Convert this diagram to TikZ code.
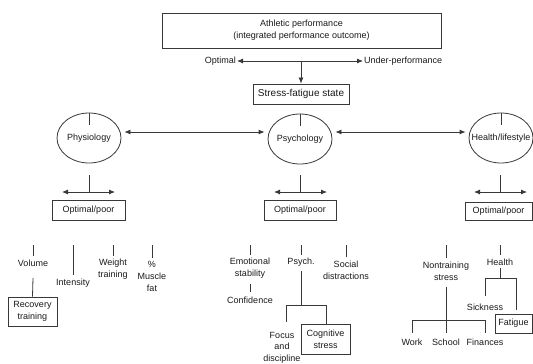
\documentclass[tikz,border=0pt]{standalone}
\usepackage{fontspec}
\setmainfont{Liberation Sans}
\usetikzlibrary{arrows.meta,shapes.geometric}
\begin{document}
\begin{tikzpicture}[x=1pt,y=-1pt,
  every node/.style={text=black!90, font=\fontsize{9}{12}\selectfont, inner sep=1pt},
  ln/.style={draw=black!78, line width=0.8pt},
  bx/.style={draw=black!78, line width=0.9pt, rectangle, align=center, inner sep=0pt},
  lbl/.style={align=center},
  oval/.style={ellipse, draw=black!78, line width=0.8pt, minimum width=64pt, minimum height=50pt, inner sep=0pt},
  arr/.style={ln, -{Latex[length=6pt,width=5pt]}},
  darr/.style={ln, {Latex[length=6pt,width=5pt]}-{Latex[length=6pt,width=5pt]}},
]
\useasboundingbox (0,0) rectangle (533,364);

% top
\node[bx, minimum width=279pt, minimum height=35pt] (perf) at (301.5,30.5) {Athletic performance\\(integrated performance outcome)};
\node[anchor=east] (opt) at (237,61) {Optimal};
\node[anchor=west] (under) at (363,61) {Under-performance};
\draw[darr] (opt.east) -- (under.west);
\coordinate (mid) at (301,61);
\node[bx, minimum width=96pt, minimum height=20pt, font=\fontsize{10}{12}\selectfont] (stress) at (301,94) {Stress-fatigue state};
\draw[arr] (mid) -- (stress.north);

% circles
\node[oval] (phys) at (89,138) {\makebox[0pt]{Physiology}};
\node[oval] (psych) at (300,139) {\makebox[0pt]{Psychology}};
\node[oval] (hl) at (501,138) {\makebox[0pt]{Health/lifestyle}};
\draw[ln] (phys.north) -- ++(0,12);
\draw[ln] (psych.north) -- ++(0,12);
\draw[ln] (hl.north) -- ++(0,12);
\draw[darr, shorten <=3pt, shorten >=3pt] ([yshift=6pt]phys.east) -- ([yshift=7pt]psych.west);
\draw[darr, shorten <=3pt, shorten >=3pt] ([yshift=7pt]psych.east) -- ([yshift=6pt]hl.west);

% optimal/poor rows
\coordinate (pa1) at (89,175); \coordinate (pa2) at (89,192);
\coordinate (pl) at (62,192); \coordinate (pr) at (115,192);
\draw[ln] (pa1) -- (pa2);
\draw[darr] (pl) -- (pr);
\node[bx, minimum width=73pt, minimum height=20pt] (pop) at (88.5,210) {Optimal/poor};

\coordinate (qa1) at (300,175); \coordinate (qa2) at (300,192);
\coordinate (ql) at (274,192); \coordinate (qr) at (327,192);
\draw[ln] (qa1) -- (qa2);
\draw[darr] (ql) -- (qr);
\node[bx, minimum width=72pt, minimum height=20pt] (qop) at (300,210) {Optimal/poor};

\coordinate (ha1) at (500,175); \coordinate (ha2) at (500,192);
\coordinate (hl1) at (474,192); \coordinate (hr1) at (527,192);
\draw[ln] (ha1) -- (ha2);
\draw[darr] (hl1) -- (hr1);
\node[bx, minimum width=67pt, minimum height=18pt] (hop) at (498.5,211.5) {Optimal/poor};

% physiology branch
\node[lbl] (vol) at (33,263) {Volume};
\node[lbl] (int) at (73,283) {Intensity};
\node[lbl] (wt) at (113,269.5) {Weight\\training};
\node[lbl] (mus) at (152,276.5) {\%\\Muscle\\fat};
\node[bx, minimum width=49pt, minimum height=29pt] (rec) at (32.5,311.5) {Recovery\\training};
\coordinate (t1) at (33,245); \coordinate (t2) at (73,245);
\coordinate (t3) at (113,245); \coordinate (t4) at (152,245);
\draw[ln, shorten >=2pt] (t1) -- (vol.north);
\draw[ln, shorten >=3pt] (t2) -- (int.north);
\draw[ln, shorten >=2pt] (t3) -- (wt.north);
\draw[ln, shorten >=2pt] (t4) -- (mus.north);
\coordinate (v1) at (33,278);
\draw[ln] (v1) -- (rec.north);

% psychology branch
\node[lbl] (emo) at (250,268) {Emotional\\stability};
\node[lbl] (conf) at (250,300) {Confidence};
\node[lbl] (psy) at (301,262) {Psych.};
\node[lbl] (soc) at (346,270) {Social\\distractions};
\node[lbl, font=\fontsize{9}{11.5}\selectfont] (foc) at (282,347.5) {Focus\\and\\discipline};
\node[bx, minimum width=49pt, minimum height=30pt] (cog) at (325.5,339) {Cognitive\\stress};
\coordinate (t5) at (250,245); \coordinate (t6) at (301,245); \coordinate (t7) at (346,245);
\draw[ln, shorten >=2pt] (t5) -- (emo.north);
\draw[ln, shorten >=2pt] (t6) -- (psy.north);
\draw[ln, shorten >=2pt] (t7) -- (soc.north);
\draw[ln, shorten <=5pt, shorten >=3pt] (emo.south) -- (conf.north);
\coordinate (pb) at (301,305); \coordinate (pbl) at (286,305); \coordinate (pbr) at (326,305);
\draw[ln, shorten <=4pt] (psy.south) -- (pb);
\draw[ln] (pbl) -- (pbr);
\draw[ln] (pbl) -- ++(0,17);
\draw[ln] (pbr) -- (pbr |- cog.north);

% health branch
\node[lbl] (non) at (446,271) {Nontraining\\stress};
\node[lbl] (hea) at (500,262) {Health};
\node[lbl] (sick) at (485,307) {Sickness};
\node[bx, minimum width=37pt, minimum height=19pt] (fat) at (513.5,323.5) {Fatigue};
\node[lbl] (work) at (412,342) {Work};
\node[lbl] (school) at (446,342) {School};
\node[lbl] (fin) at (485,342) {Finances};
\coordinate (t8) at (446,245); \coordinate (t9) at (500,245);
\draw[ln, shorten >=2pt] (t8) -- (non.north);
\draw[ln, shorten >=2pt] (t9) -- (hea.north);
\coordinate (n2) at (446,320); \coordinate (n3) at (412,320); \coordinate (n4) at (485,320);
\draw[ln, shorten <=5pt] (non.south) -- (n2);
\draw[ln] (n3) -- (n4);
\draw[ln, shorten >=4pt] (n3) -- (work.north);
\draw[ln, shorten >=4pt] (n2) -- (school.north);
\draw[ln, shorten >=4pt] (n4) -- (fin.north);
\coordinate (h1) at (500,278); \coordinate (h2) at (485,278); \coordinate (h3) at (516,278);
\draw[ln, shorten <=1pt] (hea.south) -- (h1);
\draw[ln] (h2) -- (h3);
\draw[ln, shorten >=6pt] (h2) -- (sick.north);
\draw[ln, shorten >=4pt] (h3) -- (h3 |- fat.north);
\end{tikzpicture}
\end{document}
